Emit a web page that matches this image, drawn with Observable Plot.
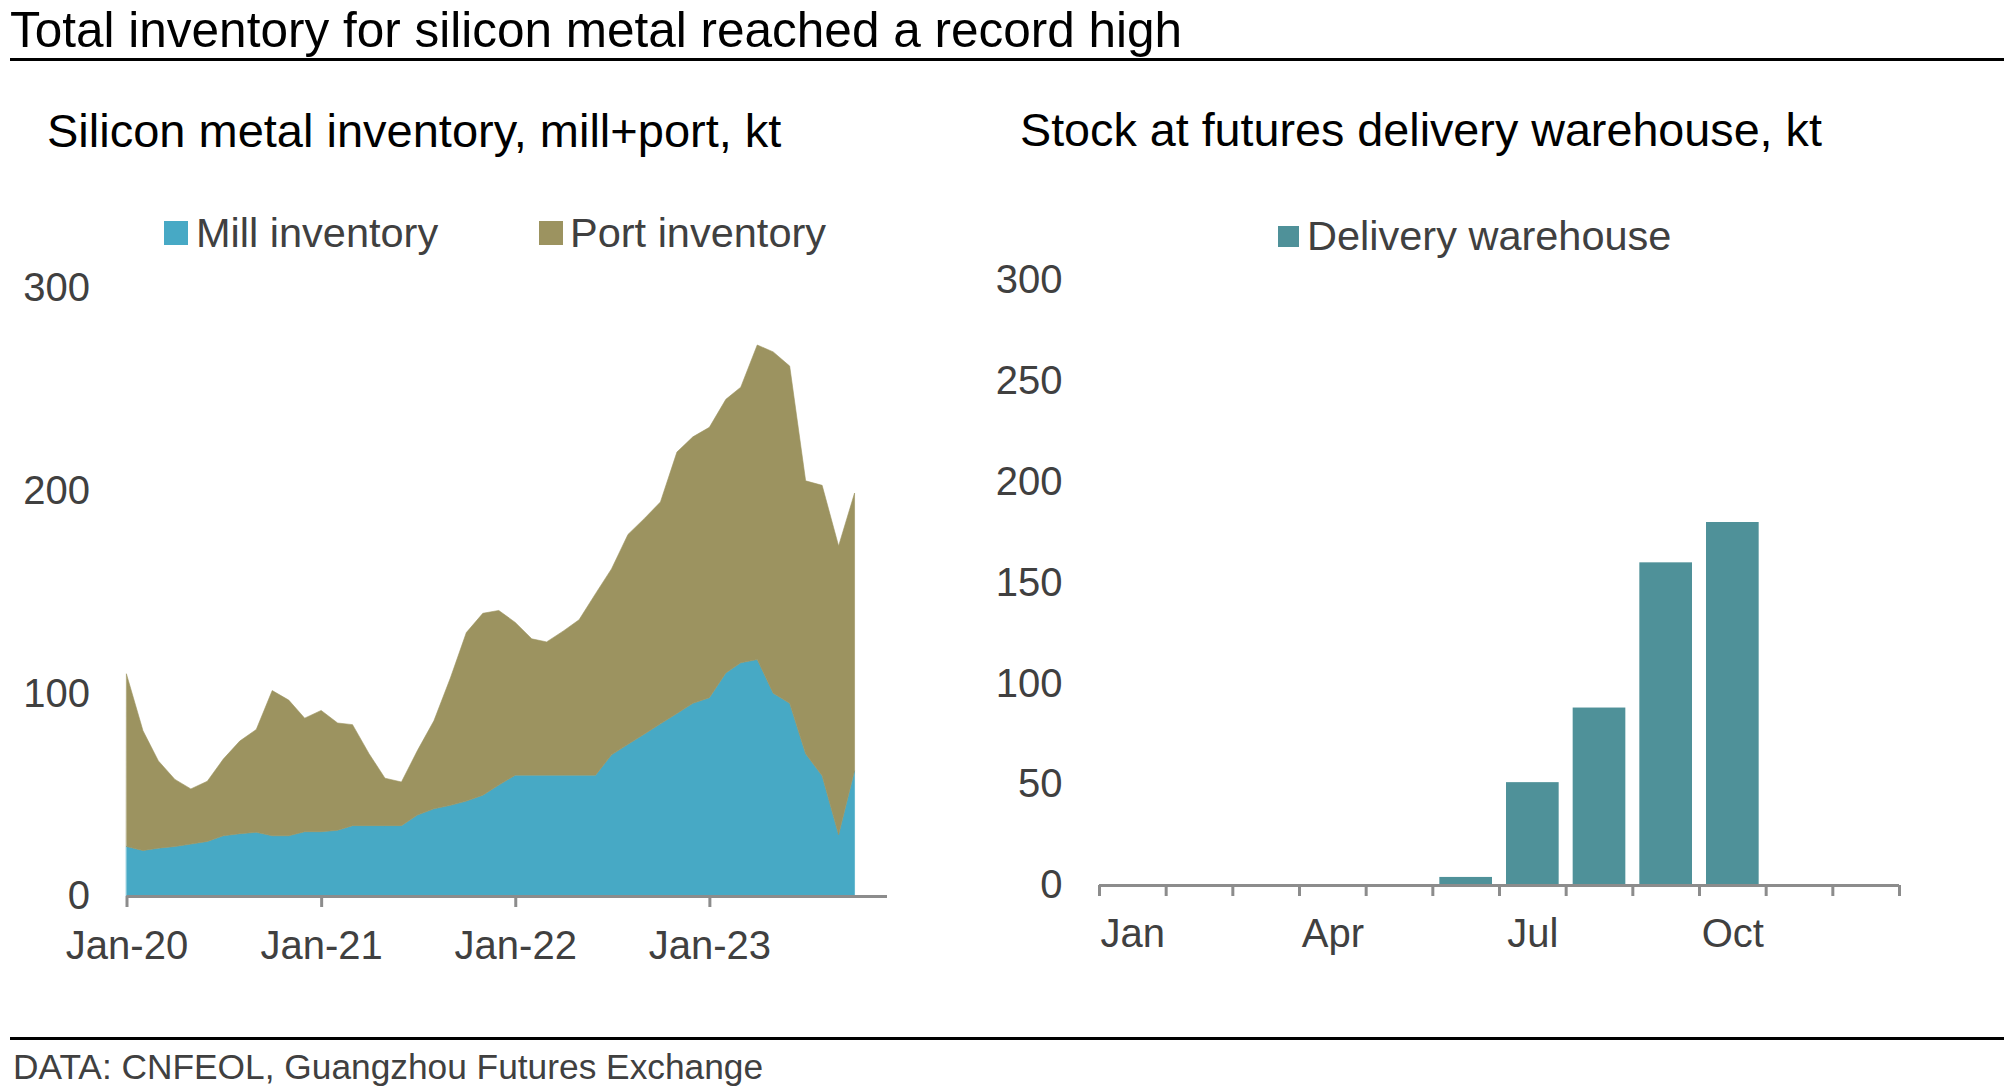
<!DOCTYPE html>
<html><head><meta charset="utf-8">
<script src="https://cdn.jsdelivr.net/npm/d3@7"></script>
<script src="https://cdn.jsdelivr.net/npm/@observablehq/plot@0.6"></script>
<style>
body{margin:0;background:#fff;}
#page{position:relative;width:2004px;height:1087px;overflow:hidden;font-family:"Liberation Sans",Arial,sans-serif;background:#fff;}
.t{position:absolute;white-space:nowrap;line-height:1;}
.sw{position:absolute;}
.rule{position:absolute;background:#000;}
svg.chart{position:absolute;overflow:visible;}
</style></head><body><div id="page"></div>
<script>
// ---------- data ----------
const inventorySeries = ["Mill inventory", "Port inventory"];
const inventoryColors = ["#47a9c5", "#9c9360"];
const millInventory = [
  24.4, 22.4, 23.6, 24.4, 25.6, 26.9, 29.7, 30.7, 31.4, 29.7, 29.7, 31.7,
  31.7, 32.4, 34.7, 34.7, 34.7, 34.7, 39.9, 43.0, 44.7, 46.8, 49.7, 54.7,
  59.6, 59.6, 59.6, 59.6, 59.6, 59.6, 69.6, 74.8, 79.9, 84.9, 90.0, 95.0,
  97.8, 110.0, 115.0, 116.6, 100.0, 95.0, 70.1, 59.3, 30.2, 61.8
];
const portInventory = [
  85.0, 59.1, 43.0, 33.1, 27.2, 29.7, 37.8, 45.7, 50.7, 71.6, 66.9, 56.0,
  59.8, 52.9, 49.8, 35.5, 23.4, 21.5, 31.8, 43.4, 62.8, 83.1, 89.7, 86.1,
  75.3, 67.2, 65.7, 71.0, 76.6, 89.5, 91.7, 103.5, 106.3, 109.4, 128.9, 131.4,
  133.3, 134.9, 135.9, 155.1, 168.3, 166.3, 134.6, 143.2, 142.4, 136.9
];
const inventoryYTicks = [0, 100, 200, 300];
const inventoryXTicks = [Date.UTC(2020,0,1), Date.UTC(2021,0,1), Date.UTC(2022,0,1), Date.UTC(2023,0,1)];

const deliveryMonths = ["Jan","Feb","Mar","Apr","May","Jun","Jul","Aug","Sep","Oct","Nov","Dec"];
const deliveryStock = [0, 0, 0, 0, 0, 4, 51, 88, 160, 180, null, null];
const deliveryLabelMonths = ["Jan", "Apr", "Jul", "Oct"];
const deliveryYTicks = [0, 50, 100, 150, 200, 250, 300];
const deliveryColor = "#4f9199";

// ---------- page text ----------
const page = document.getElementById("page");
function addText(txt, left, top, size, color) {
  const d = document.createElement("div");
  d.className = "t"; d.textContent = txt;
  Object.assign(d.style, {left: left + "px", top: top + "px", fontSize: size + "px", color});
  page.appendChild(d); return d;
}
function addBox(cls, left, top, w, h, color) {
  const d = document.createElement("div");
  d.className = cls;
  Object.assign(d.style, {left: left + "px", top: top + "px", width: w + "px", height: h + "px", background: color});
  page.appendChild(d); return d;
}
addText("Total inventory for silicon metal reached a record high", 10, 5, 49.5, "#000");
addBox("rule", 10, 58, 1994, 3, "#000");
addText("Silicon metal inventory, mill+port, kt", 47, 107, 47, "#000");
addText("Stock at futures delivery warehouse, kt", 1020, 107, 46.7, "#000");
// legends
addBox("sw", 164, 221, 24, 24, inventoryColors[0]);
addText(inventorySeries[0], 196, 212, 41.5, "#404040");
addBox("sw", 539, 221, 24, 24, inventoryColors[1]);
addText(inventorySeries[1], 570, 212, 41.5, "#404040");
addBox("sw", 1278, 226, 21, 21, deliveryColor);
addText("Delivery warehouse", 1307, 215, 41.5, "#404040");
addBox("rule", 10, 1037, 1994, 2.5, "#000");
addText("DATA: CNFEOL, Guangzhou Futures Exchange", 13, 1049, 35.3, "#404040");

// ---------- left chart ----------
const rows = [];
millInventory.forEach((v, i) => rows.push({date: new Date(Date.UTC(2020, i, 1)), series: inventorySeries[0], value: v}));
portInventory.forEach((v, i) => rows.push({date: new Date(Date.UTC(2020, i, 1)), series: inventorySeries[1], value: v}));

const axisGrey = "#8c8c8c";
const left = Plot.plot({
  width: 960, height: 740,
  marginTop: 37.6, marginBottom: 94, marginLeft: 126.5, marginRight: 73,
  style: {fontFamily: '"Liberation Sans", Arial, sans-serif', fontSize: "40px", color: "#404040", background: "transparent", overflow: "visible"},
  x: {type: "utc", domain: [new Date(Date.UTC(2020,0,1)), new Date(Date.UTC(2023,11,1))]},
  y: {domain: [0, 300]},
  color: {domain: inventorySeries, range: inventoryColors},
  marks: [
    Plot.areaY(rows, {x: "date", y: "value", fill: "series", z: "series", order: inventorySeries, stroke: "series", strokeWidth: 0.6}),
    Plot.ruleY([0], {stroke: axisGrey, strokeWidth: 3}),
    Plot.axisY({ticks: inventoryYTicks, tickSize: 0, tickPadding: 37, label: null}),
    Plot.axisX({ticks: inventoryXTicks.map(t => new Date(t)), tickSize: 11, tickPadding: 23, stroke: axisGrey, strokeWidth: 3, label: null, tickFormat: d3.utcFormat("%b-%y")})
  ]
});
left.classList.add("chart");
Object.assign(left.style, {left: "0px", top: "250px"});
page.appendChild(left);

// ---------- right chart ----------
const barRows = deliveryMonths.map((m, i) => ({i, month: m, value: deliveryStock[i]})).filter(d => d.value != null && d.value > 0);
const right = Plot.plot({
  width: 1000, height: 740,
  marginTop: 30, marginBottom: 105, marginLeft: 119, marginRight: 81,
  style: {fontFamily: '"Liberation Sans", Arial, sans-serif', fontSize: "40px", color: "#404040", background: "transparent", overflow: "visible"},
  x: {type: "linear", domain: [0, deliveryMonths.length]},
  y: {domain: [0, 300]},
  marks: [
    Plot.rect(barRows, {x1: "i", x2: d => d.i + 1, y1: 0, y2: "value", fill: deliveryColor, insetLeft: 7, insetRight: 7}),
    Plot.ruleY([0], {stroke: axisGrey, strokeWidth: 3}),
    Plot.axisY({ticks: deliveryYTicks, tickSize: 0, tickPadding: 37, label: null}),
    Plot.axisX({ticks: d3.range(deliveryMonths.length + 1), tickSize: 11, tickFormat: () => "", stroke: axisGrey, strokeWidth: 3, label: null}),
    Plot.axisX({ticks: deliveryLabelMonths.map(m => deliveryMonths.indexOf(m) + 0.5), tickSize: 0, tickPadding: 33, label: null,
      tickFormat: v => deliveryMonths[Math.floor(v)]})
  ]
});
right.classList.add("chart");
Object.assign(right.style, {left: "980px", top: "250px"});
page.appendChild(right);
</script>
</body></html>
